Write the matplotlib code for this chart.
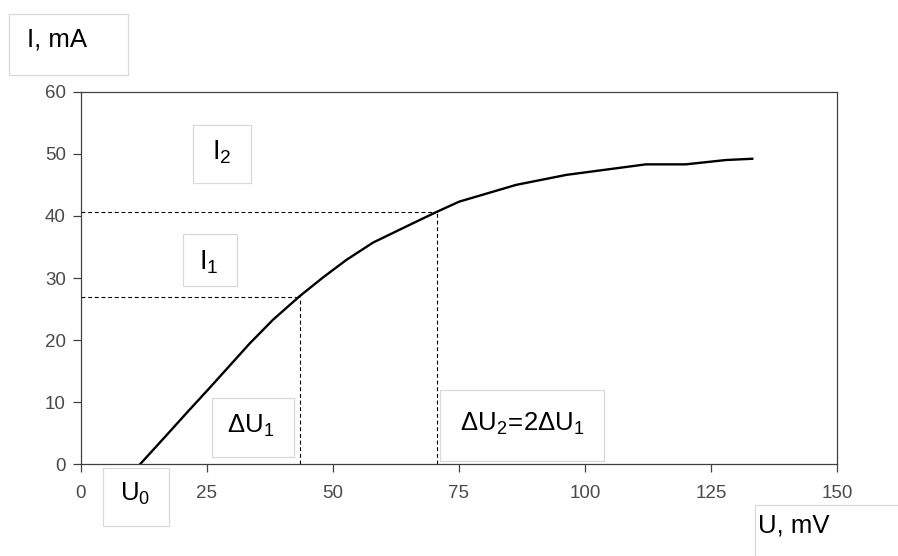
import matplotlib
matplotlib.use("Agg")
import matplotlib.pyplot as plt
from matplotlib.patches import Rectangle

plt.rcParams['font.family'] = ['Liberation Sans', 'DejaVu Sans']
plt.rcParams['mathtext.fontset'] = 'custom'
plt.rcParams['mathtext.rm'] = 'Liberation Sans'
plt.rcParams['mathtext.it'] = 'Liberation Sans'

# data (U in mV, I in mA)
u_vals = [11.8, 16.4, 21.3, 25.6, 29.6, 33.6, 38.2, 43.5, 48.1, 52.7, 58.0, 64.6,
          70.5, 75.1, 86.4, 96.3, 112.1, 120.0, 128.0, 133.2]
i_vals = [0.0, 4.1, 8.5, 12.3, 15.9, 19.5, 23.3, 27.1, 30.1, 32.9, 35.7, 38.3,
          40.6, 42.3, 45.0, 46.6, 48.3, 48.3, 49.0, 49.2]
u1, i1 = 43.6, 27.0
u2, i2 = 70.7, 40.6
x_ticks = [0, 25, 50, 75, 100, 125, 150]
y_ticks = [0, 10, 20, 30, 40, 50, 60]

W, H = 898, 556
fig = plt.figure(figsize=(W / 100, H / 100), dpi=100)
ax = fig.add_axes([80.5 / W, 1 - 464.3 / H, 756.5 / W, 372.6 / H])

ax.plot(u_vals, i_vals, color='black', lw=1.7, solid_joinstyle='round')
dash = (0, (3.5, 2.5))
ax.plot([0, u1], [i1, i1], color='black', lw=0.8, linestyle=dash)
ax.plot([u1, u1], [0, i1], color='black', lw=0.8, linestyle=dash)
ax.plot([0, u2], [i2, i2], color='black', lw=0.8, linestyle=dash)
ax.plot([u2, u2], [0, i2], color='black', lw=0.8, linestyle=dash)

ax.set_xlim(0, 150)
ax.set_ylim(0, 60)
ax.set_xticks(x_ticks)
ax.set_yticks(y_ticks)
ax.set_xticklabels([str(v) for v in x_ticks])
ax.set_yticklabels([str(v) for v in y_ticks])
for s in ax.spines.values():
    s.set_color('#404040')
    s.set_linewidth(0.9)
ax.tick_params(axis='both', direction='out', length=5.5, width=0.9, color='#404040',
               labelcolor='#4a4a4a', labelsize=13.5)
ax.tick_params(axis='x', pad=9.5)
ax.tick_params(axis='y', pad=5)


def box(x0, y0, x1, y1, txt, tx, ty, size, ha='center'):
    fig.patches.append(Rectangle((x0 / W, 1 - y1 / H), (x1 - x0) / W, (y1 - y0) / H,
                                 transform=fig.transFigure, facecolor='white',
                                 edgecolor='#d9d9d9', lw=0.9, zorder=5))
    fig.text(tx / W, 1 - ty / H, txt, ha=ha, va='center', fontsize=size,
             color='black', zorder=6)


box(9, 14, 128, 75, 'I, mA', 27, 40, 18.5, ha='left')
box(193, 125, 251, 183, r'$\mathregular{I_2}$', 222, 152, 19.5)
box(183, 234, 237, 286, r'$\mathregular{I_1}$', 209, 262, 19.5)
box(103, 468, 169, 526, r'$\mathregular{U_0}$', 135, 494, 18.5)
box(212, 398, 294, 457, r'$\mathregular{\Delta U_1}$', 251, 426, 18.5)
box(440, 390, 604, 461, r'$\mathregular{\Delta U_2\!=\!2\Delta U_1}$', 522, 424, 18.5)
box(755, 505, 905, 560, 'U, mV', 758, 526, 18.5, ha='left')

fig.savefig('out.png', dpi=100)
